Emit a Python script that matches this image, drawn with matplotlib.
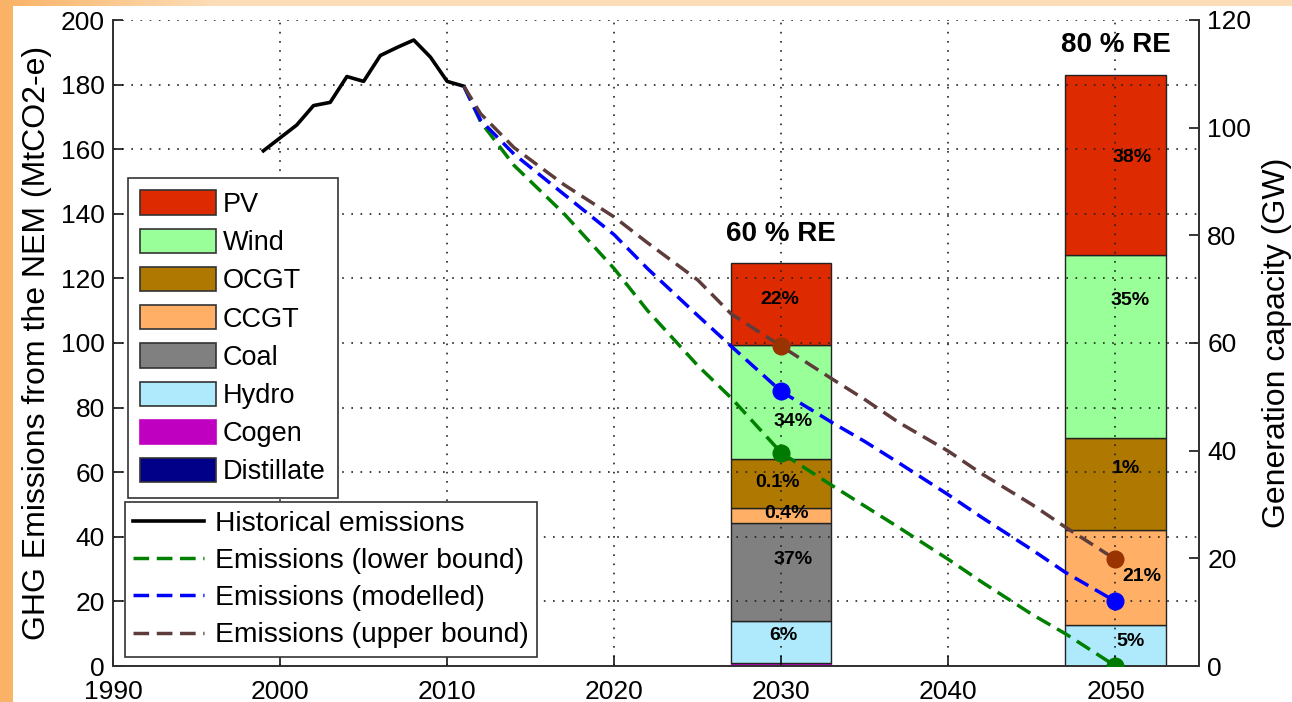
import numpy as np
import matplotlib.pyplot as plt
from matplotlib.patches import Patch, Rectangle
from matplotlib.lines import Line2D

plt.rcParams['font.family'] = ['Liberation Sans', 'DejaVu Sans']

# Historical NEM emissions (MtCO2-e)
hist_years = [1999, 2000, 2001, 2002, 2003, 2004, 2005, 2006, 2007, 2008, 2009, 2010, 2011]
hist_vals = [159.5, 163.5, 167.5, 173.5, 174.5, 182.5, 181.0, 189.0, 191.5, 193.8, 188.5, 181.0, 179.5]

# Projected emissions (MtCO2-e)
proj_years = [2011, 2012, 2014, 2017, 2020, 2022, 2025, 2027, 2030,
              2033, 2035, 2037, 2040, 2042, 2045, 2047, 2050]
upper = [179.5, 171.0, 160.5, 149.0, 139.0, 131.0, 119.5, 109.0, 99.0,
         89.0, 82.5, 75.5, 66.5, 59.5, 50.0, 43.0, 33.0]
modelled = [179.5, 169.0, 158.5, 146.0, 133.5, 123.0, 108.5, 99.0, 85.0,
            75.5, 69.5, 63.0, 53.0, 46.0, 36.0, 29.0, 20.0]
lower = [179.5, 168.5, 155.0, 140.0, 123.0, 110.0, 93.0, 83.0, 66.0,
         56.0, 49.5, 43.0, 33.0, 26.0, 16.0, 10.0, 0.0]
marker_years = [2030, 2050]

# Generation capacity (GW), stacked bottom -> top
bar_years = [2030, 2050]
techs = ['Distillate', 'Cogen', 'Hydro', 'Coal', 'CCGT', 'OCGT', 'Wind', 'PV']
cap_2030 = [0.0, 0.6, 7.7, 18.2, 2.8, 9.1, 21.3, 15.1]
cap_2050 = [0.0, 0.0, 7.6, 0.0, 17.6, 17.1, 34.1, 33.4]
share_2030 = ['', '', '6%', '37%', '0.4%', '0.1%', '34%', '22%']
share_2050 = ['', '', '5%', '', '21%', '1%', '35%', '38%']
re_titles = ['60 % RE', '80 % RE']

colors = {'PV': '#DD2A00', 'Wind': '#99FF99', 'OCGT': '#AF7800', 'CCGT': '#FFB066',
          'Coal': '#808080', 'Hydro': '#AEEAFB', 'Cogen': '#C000C0', 'Distillate': '#000088'}

# label nudges (years, GW) relative to segment centre
dx_2030 = [0, 0, 0.1, 0.7, 0.3, -0.2, 0.7, -0.1]
dy_2030 = [0, 0, 1.2, 2.3, 0.5, 0.3, -3.7, 0.9]
dx_2050 = [0, 0, 0.9, 0, 1.6, 0.6, 0.9, 1.0]
dy_2050 = [0, 0, 0.8, 0, 0.3, 3.0, 8.5, 1.4]

fig = plt.figure(figsize=(12.92, 7.02), dpi=100)

# orange slide-style border
bg = fig.add_axes([0, 0, 1, 1], zorder=-10)
gx = np.linspace(0, 1, 300)
grad = np.clip(1 - gx * 6, 0, 1)[None, :]
c0 = np.array([0.99, 0.87, 0.72])
c1 = np.array([0.98, 0.70, 0.40])
img = c0 + (c1 - c0) * grad[..., None]
bg.imshow(np.repeat(img, 10, axis=0), aspect='auto', extent=[0, 1, 0, 1])
bg.add_patch(Rectangle((13 / 1292, 0), 1 - 13 / 1292, 1 - 6 / 702,
                       facecolor='white', edgecolor='none'))
bg.set_xlim(0, 1)
bg.set_ylim(0, 1)
bg.axis('off')

ax = fig.add_axes([113 / 1292, 1 - 666 / 702, 1086 / 1292, 646 / 702])
ax2 = ax.twinx()
ax.set_zorder(ax2.get_zorder() + 1)
ax.patch.set_visible(False)

# stacked capacity bars on the right axis
for yr, caps, shares, dxs, dys, title in [
        (bar_years[0], cap_2030, share_2030, dx_2030, dy_2030, re_titles[0]),
        (bar_years[1], cap_2050, share_2050, dx_2050, dy_2050, re_titles[1])]:
    bottom = 0.0
    for t, c, s, dx, dy in zip(techs, caps, shares, dxs, dys):
        if c > 0:
            ec = colors[t] if t == 'Cogen' else '#222222'
            ax2.bar(yr, c, width=6, bottom=bottom, color=colors[t],
                    edgecolor=ec, linewidth=1.0, zorder=2)
            if s:
                ax2.text(yr + dx, bottom + c / 2 + dy, s, ha='center', va='center',
                         fontsize=14, fontweight='bold', zorder=3)
        bottom += c
    ax2.text(yr, bottom + 5.5, title, ha='center', va='center',
             fontsize=20, fontweight='bold', zorder=3)

ax2.set_ylim(0, 120)
ax2.set_yticks(np.arange(0, 121, 20))
ax2.set_ylabel('Generation capacity (GW)', fontsize=23, labelpad=8)

# emissions lines
ax.plot(hist_years, hist_vals, color='black', lw=2.6, zorder=4)
dash = (4.5, 2.2)
line_specs = [(lower, '#008000', '#007A00'), (modelled, '#0000FF', '#0000FF'),
              (upper, '#5E3C3C', '#993300')]
for vals, lc, mc in line_specs:
    ax.plot(proj_years, vals, color=lc, lw=2.5, dashes=dash, zorder=4)
    mv = [vals[proj_years.index(y)] for y in marker_years]
    ax.plot(marker_years, mv, 'o', color=mc, ms=12, zorder=5)

ax.set_xlim(1990, 2055)
ax.set_ylim(0, 200)
ax.set_xticks(np.arange(1990, 2051, 10))
ax.set_yticks(np.arange(0, 201, 20))
ax.set_ylabel('GHG Emissions from the NEM (MtCO2-e)', fontsize=23, labelpad=6)
ax.grid(True, linestyle=(0, (1, 4.5)), color='#222222', linewidth=1.2)

for a in (ax, ax2):
    a.spines['top'].set_visible(False)
    for sp in a.spines.values():
        sp.set_linewidth(1.3)
        sp.set_color('#333333')
    a.tick_params(direction='in', length=7, width=1.1, labelsize=19, pad=6)
ax.tick_params(axis='x', pad=10)

# legends
bar_handles = [Patch(facecolor=colors[t], edgecolor=(colors[t] if t == 'Cogen' else '#333333'),
                     linewidth=1.2, label=t) for t in techs[::-1]]
leg1 = ax.legend(handles=bar_handles, loc='upper left', bbox_to_anchor=(0.0138, 0.755),
                 borderaxespad=0, fontsize=19.5, frameon=True, fancybox=False,
                 edgecolor='#333333', framealpha=1, handlelength=2.8, handleheight=1.0,
                 handletextpad=0.25, labelspacing=0.4, borderpad=0.45)
leg1.get_frame().set_linewidth(1.2)
ax.add_artist(leg1)

line_handles = [Line2D([], [], color='black', lw=2.6, label='Historical emissions'),
                Line2D([], [], color='#008000', lw=2.5, dashes=dash, label='Emissions (lower bound)'),
                Line2D([], [], color='#0000FF', lw=2.5, dashes=dash, label='Emissions (modelled)'),
                Line2D([], [], color='#5E3C3C', lw=2.5, dashes=dash, label='Emissions (upper bound)')]
leg2 = ax.legend(handles=line_handles, loc='lower left', bbox_to_anchor=(0.011, 0.014),
                 borderaxespad=0, fontsize=20.3, frameon=True, fancybox=False,
                 edgecolor='#333333', framealpha=1, handlelength=2.5,
                 handletextpad=0.4, labelspacing=0.4, borderpad=0.3)
leg2.get_frame().set_linewidth(1.2)

fig.savefig('out.png', dpi=100)
